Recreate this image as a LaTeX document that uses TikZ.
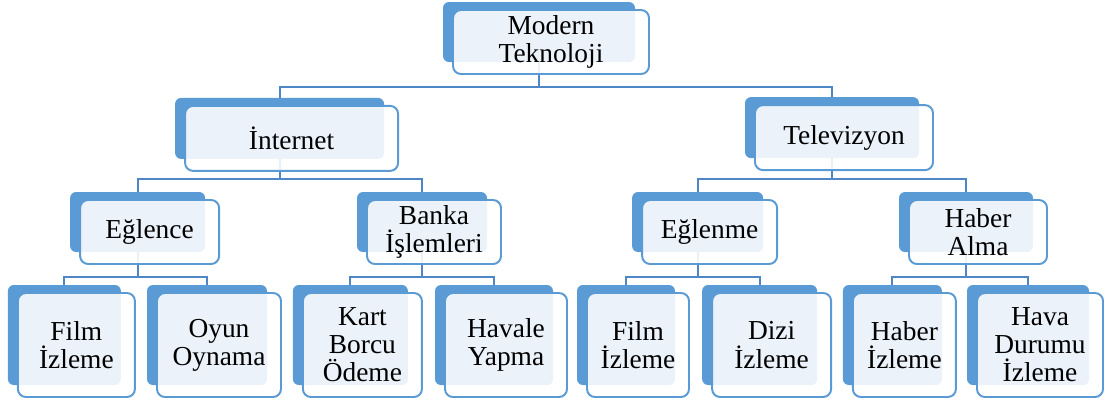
\documentclass[tikz,border=0pt]{standalone}
\usepackage{fontspec}
\setmainfont{Liberation Serif}
\newfontfamily\boxfont{Liberation Serif}
\usetikzlibrary{positioning, calc, backgrounds}
\definecolor{BoxBlue}{HTML}{5B9BD5}
\definecolor{LineBlue}{HTML}{4F86C6}

\begin{document}
\begin{tikzpicture}[
        back/.style={rectangle, rounded corners=0.15cm, fill=BoxBlue, draw=none},
        front/.style={rectangle, rounded corners=0.2cm, draw=BoxBlue, line width=1.4pt, fill=white, fill opacity=0.88, text opacity=1, align=center, inner sep=1pt, font=\boxfont\fontsize{19.5}{20}\selectfont},
        link/.style={draw=LineBlue, line width=1.3pt}
      ]
        \useasboundingbox (0,0) rectangle (27.675,-10.175);

        % Nodes - level 0
        \node[back, minimum width=4.8cm, minimum height=1.5cm] (rootB) at (13.475,-0.8) {};
        \node[front, minimum width=4.9cm, minimum height=1.6cm] (root) at ([shift={(0.3,-0.25)}]rootB.center) {Modern\\Teknoloji};

        % Nodes - level 1
        \node[back, minimum width=5.225cm, minimum height=1.525cm] (internetB) at (6.99,-3.21) {};
        \node[front, minimum width=5.325cm, minimum height=1.625cm] (internet) at ([shift={(0.3,-0.25)}]internetB.center) {İnternet};
        \node[back, minimum width=4.35cm, minimum height=1.525cm] (tvB) at (20.8,-3.19) {};
        \node[front, minimum width=4.45cm, minimum height=1.625cm] (tv) at ([shift={(0.3,-0.25)}]tvB.center) {Televizyon};

        % Nodes - level 2
        \node[back, minimum width=3.375cm, minimum height=1.5cm] (eglenceB) at (3.44,-5.55) {};
        \node[front, minimum width=3.475cm, minimum height=1.6cm] (eglence) at ([shift={(0.3,-0.25)}]eglenceB.center) {Eğlence};
        \node[back, minimum width=3.25cm, minimum height=1.5cm] (bankaB) at (10.55,-5.55) {};
        \node[front, minimum width=3.35cm, minimum height=1.6cm] (banka) at ([shift={(0.3,-0.25)}]bankaB.center) {Banka\\İşlemleri};
        \node[back, minimum width=3.275cm, minimum height=1.5cm] (eglenmeB) at (17.44,-5.55) {};
        \node[front, minimum width=3.375cm, minimum height=1.6cm] (eglenme) at ([shift={(0.3,-0.25)}]eglenmeB.center) {Eğlenme};
        \node[back, minimum width=3.35cm, minimum height=1.5cm] (haberB) at (24.15,-5.55) {};
        \node[front, minimum width=3.45cm, minimum height=1.6cm] (haber) at ([shift={(0.3,-0.25)}]haberB.center) {Haber\\Alma};

        % Nodes - level 3
        \node[back, minimum width=2.825cm, minimum height=2.5cm] (filmaB) at (1.61,-8.375) {};
        \node[front, minimum width=2.925cm, minimum height=2.6cm] (filma) at ([shift={(0.3,-0.25)}]filmaB.center) {Film\\İzleme};
        \node[back, minimum width=3.0cm, minimum height=2.5cm] (oyunB) at (5.175,-8.375) {};
        \node[front, minimum width=3.1cm, minimum height=2.6cm] (oyun) at ([shift={(0.3,-0.25)}]oyunB.center) {Oyun\\Oynama};
        \node[back, minimum width=2.875cm, minimum height=2.5cm] (kartB) at (8.76,-8.375) {};
        \node[front, minimum width=2.975cm, minimum height=2.6cm] (kart) at ([shift={(0.3,-0.25)}]kartB.center) {Kart\\Borcu\\Ödeme};
        \node[back, minimum width=2.95cm, minimum height=2.5cm] (havaleB) at (12.35,-8.375) {};
        \node[front, minimum width=3.05cm, minimum height=2.6cm] (havale) at ([shift={(0.3,-0.25)}]havaleB.center) {Havale\\Yapma};
        \node[back, minimum width=2.45cm, minimum height=2.5cm] (filmbB) at (15.65,-8.375) {};
        \node[front, minimum width=2.55cm, minimum height=2.6cm] (filmb) at ([shift={(0.3,-0.25)}]filmbB.center) {Film\\İzleme};
        \node[back, minimum width=2.875cm, minimum height=2.5cm] (diziB) at (18.99,-8.375) {};
        \node[front, minimum width=2.975cm, minimum height=2.6cm] (dizi) at ([shift={(0.3,-0.25)}]diziB.center) {Dizi\\İzleme};
        \node[back, minimum width=2.475cm, minimum height=2.5cm] (habizB) at (22.31,-8.375) {};
        \node[front, minimum width=2.575cm, minimum height=2.6cm] (habiz) at ([shift={(0.3,-0.25)}]habizB.center) {Haber\\İzleme};
        \node[back, minimum width=3.05cm, minimum height=2.5cm] (havaB) at (25.7,-8.375) {};
        \node[front, minimum width=3.15cm, minimum height=2.6cm] (hava) at ([shift={(0.3,-0.25)}]havaB.center) {Hava\\Durumu\\İzleme};

        % Connections
        \begin{scope}[on background layer]
          \draw[link] (rootB.south) -- ++(0,-0.62) -| (internetB.north);
          \draw[link] (rootB.south) -- ++(0,-0.62) -| (tvB.north);
          \draw[link] (internetB.south) -- ++(0,-0.5) -| (eglenceB.north);
          \draw[link] (internetB.south) -- ++(0,-0.5) -| (bankaB.north);
          \draw[link] (tvB.south) -- ++(0,-0.52) -| (eglenmeB.north);
          \draw[link] (tvB.south) -- ++(0,-0.52) -| (haberB.north);
          \draw[link] (eglenceB.south) -- ++(0,-0.62) -| (filmaB.north);
          \draw[link] (eglenceB.south) -- ++(0,-0.62) -| (oyunB.north);
          \draw[link] (bankaB.south) -- ++(0,-0.62) -| (kartB.north);
          \draw[link] (bankaB.south) -- ++(0,-0.62) -| (havaleB.north);
          \draw[link] (eglenmeB.south) -- ++(0,-0.62) -| (filmbB.north);
          \draw[link] (eglenmeB.south) -- ++(0,-0.62) -| (diziB.north);
          \draw[link] (haberB.south) -- ++(0,-0.62) -| (habizB.north);
          \draw[link] (haberB.south) -- ++(0,-0.62) -| (havaB.north);
        \end{scope}
      \end{tikzpicture}
\end{document}
